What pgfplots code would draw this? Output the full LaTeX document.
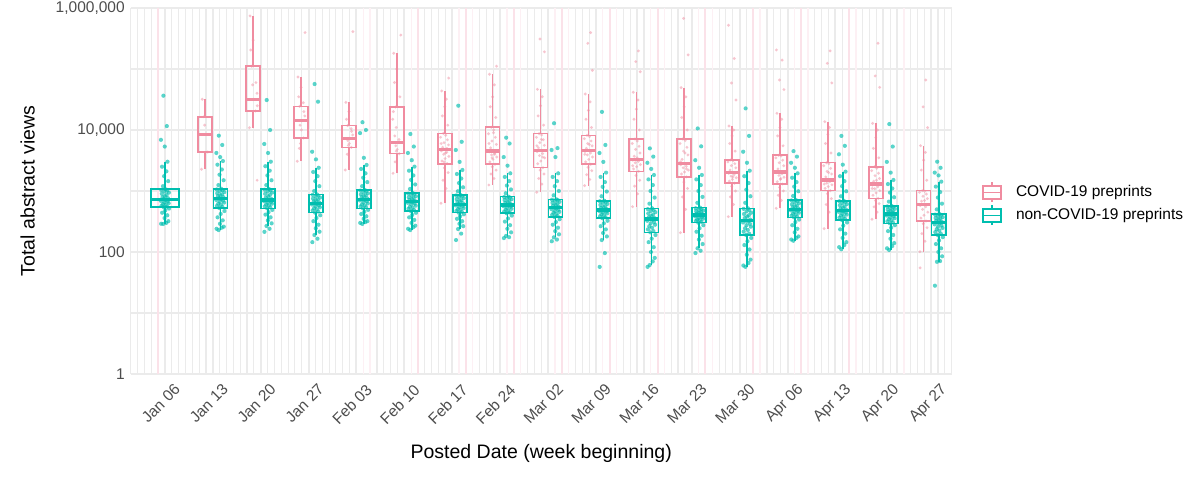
\documentclass[border=0pt]{standalone}
\usepackage{fontspec}
\setmainfont{Liberation Sans}
\usepackage{pgfplots}
\usepackage{pgfplotstable}
\pgfplotsset{compat=1.18}

\definecolor{pinkc}{RGB}{240,140,160}
\definecolor{tealc}{RGB}{0,190,175}
\definecolor{gridc}{RGB}{235,235,235}
\definecolor{pinkline}{RGB}{251,226,233}
\definecolor{pinkfaint}{RGB}{253,240,244}
\definecolor{ticktext}{RGB}{77,77,77}

\pgfplotstableread{
o t0 t1 t2 t3 t4 t5 t6 t7 t8 t9 t10 t11 t12 t13 t14 t15 t16
-0.55 290 240 214 145 300 240 157 169 150 57 57 96 60 160 120 115 28
0.20 300 250 240 165 310 255 200 175 160 96 70 105 66 170 130 125 71
-0.25 288 229 267 190 288 229 238 183 174 157 61 115 57 153 111 108 69
0.50 320 260 295 215 320 270 265 210 195 180 80 135 75 180 145 140 85
-0.05 360 290 330 245 350 300 290 240 220 205 100 160 90 210 170 165 100
0.35 400 330 370 280 385 335 320 275 250 235 120 185 110 240 200 190 115
-0.40 440 370 410 320 420 370 350 315 280 265 145 215 130 275 235 220 135
0.05 480 420 450 360 455 405 385 355 310 295 165 245 150 310 270 250 155
0.60 515 470 490 400 490 440 415 395 345 325 190 275 170 340 305 275 175
-0.15 541 526 520 441 520 470 441 431 375 357 210 303 190 370 335 295 190
0.30 555 550 540 460 540 490 455 445 390 370 220 312 200 380 350 305 200
-0.50 570 570 560 480 560 510 470 460 405 385 235 322 215 395 365 318 212
0.10 590 595 580 500 580 530 490 475 420 400 250 332 230 410 380 331 224
-0.30 610 620 600 520 600 550 505 495 440 415 265 342 245 425 395 344 236
0.55 630 645 620 540 625 575 525 510 455 430 280 352 260 440 410 357 248
-0.10 650 670 640 560 650 600 545 530 470 445 295 362 275 455 425 370 260
0.40 670 695 660 580 675 620 565 550 490 460 310 373 290 470 440 383 272
-0.60 690 715 680 600 700 640 580 565 505 470 325 384 305 482 455 396 284
0.15 710 740 700 615 715 655 595 580 520 480 338 395 318 492 466 408 295
-0.20 731 759 712 629 730 668 605 589 533 488 347 404 326 501 475 420 303
0.45 760 790 740 650 760 690 630 610 555 505 360 416 340 520 495 435 313
-0.35 790 820 780 675 790 715 655 635 575 525 375 428 360 540 515 450 325
0.00 820 850 820 700 820 740 680 660 595 545 390 440 380 560 535 465 337
0.25 860 880 860 725 850 765 705 685 615 565 410 452 400 580 560 480 349
-0.45 900 920 900 750 880 790 735 710 640 590 430 465 420 605 585 495 361
0.58 940 960 940 780 915 820 765 735 665 615 450 478 440 630 610 510 373
-0.08 980 1000 980 810 950 850 795 760 690 640 470 492 465 655 635 528 385
0.32 1010 1030 1020 840 985 880 820 780 710 660 490 507 490 680 660 545 398
-0.52 1040 1060 1050 865 1015 905 845 795 720 680 505 520 510 700 680 558 410
0.12 1066 1090 1078 882 1038 927 860 807 730 693 520 533 520 712 693 568 420
-0.28 1200 1250 1250 1000 1200 1080 990 920 850 820 620 640 640 830 820 670 500
0.48 1450 1500 1500 1200 1400 1280 1150 1060 1000 980 780 800 820 990 990 790 620
-0.12 1750 1850 1800 1450 1650 1520 1350 1230 1200 1170 1000 1000 1050 1180 1200 940 780
0.22 2100 2250 2150 1750 1950 1800 1600 1450 1450 1400 1250 1250 1350 1400 1450 1100 960
-0.42 2500 2700 2550 2050 2300 2150 1900 1700 1700 1700 1550 1550 1750 1650 1750 1300 1180
0.38 3020 3100 3020 2400 2670 2510 2210 1950 1950 2000 1830 1830 2150 1950 2075 1515 1422
-0.02 5350 3600 4200 3300 3500 3200 3000 2600 3600 3000 2300 2400 2900 2400 2700 2000 1800
-0.58 6900 4200 5900 4400 8900 4200 4700 3600 4700 4200 2900 3200 4400 2900 4000 3000 2000
0.28 11600 5680 10000 29100 10000 5350 6400 6000 5050 5680 3660 5400 8000 3660 5500 5350 2400
-0.22 36500 8070 31000 56700 13400 8600 25000 7480 12900 19800 5000 10600 22600 4500 8000 12500 3020
}\tealpts

\pgfplotstableread{
o p1 p2 p3 p4 p5 p6 p7 p8 p9 p10 p11 p12 p13 p14 p15 p16
-0.55 2270 10900 3070 2210 1950 629 1254 951 1222 553 207 379 520 241 344 101
0.20 nan nan nan nan nan 1100 1600 1300 1550 900 500 600 700 450 450 150
-0.25 nan nan 5000 4000 3000 1500 1900 1600 1850 1200 800 800 850 600 550 200
0.50 nan nan nan nan nan 2000 2200 1900 2150 1500 1100 1000 1000 750 620 250
-0.05 nan nan nan nan nan 2400 2500 2200 2450 1800 1400 1200 1150 900 700 290
0.35 4360 20500 7390 5200 4090 2800 2740 2410 2740 2100 1698 1337 1303 1012 759 322
-0.40 nan nan nan nan nan 3100 3000 2800 3000 2300 1900 1450 1420 1100 850 360
0.05 nan nan 10000 6000 4800 3400 3300 3100 3300 2500 2050 1550 1550 1180 930 400
0.60 nan 25000 nan nan nan 3700 3600 3500 3600 2700 2200 1650 1680 1260 1010 450
-0.15 nan nan 12000 6700 5500 4000 3900 3800 3900 2900 2400 1750 1800 1340 1090 500
0.30 nan nan nan nan nan 4300 4150 4100 4200 3050 2550 1850 1920 1420 1170 550
-0.50 nan nan nan nan nan 4550 4400 4400 4450 3200 2700 1950 2000 1480 1250 580
0.10 8490 31900 14200 7300 6280 4760 4530 4650 4650 3300 2800 2025 2050 1515 1303 605
-0.30 nan nan nan nan 8000 5200 5100 5100 5000 3700 3300 2200 2300 1700 1450 680
0.55 nan 40000 17000 8300 nan 5700 5800 5600 5500 4200 3900 2400 2600 1900 1600 750
-0.10 12000 nan nan nan 11000 6200 6600 6200 6000 4800 4500 2600 2900 2100 1780 820
0.40 nan 60000 20000 9500 nan 6900 7600 6900 6600 5400 5200 2800 3200 2350 1950 890
-0.60 nan nan nan nan 15000 7600 8700 7600 7200 6000 6000 3000 3500 2600 2150 950
0.15 nan nan nan nan nan 8200 10000 8300 7800 6600 6700 3150 3750 2800 2350 990
-0.20 16500 110700 24400 11800 23800 8810 11070 8700 8170 7120 7120 3220 3850 2910 2500 1012
0.45 nan nan nan nan 35000 12000 16000 12000 11000 10000 10000 4500 5500 4200 3500 1500
-0.35 nan 205000 35000 15000 60000 17000 24000 17000 15000 15000 16000 6000 8000 6000 5000 2200
0.00 nan 298000 50000 20000 100000 24000 35000 25000 21000 22000 24000 8000 11000 8500 7500 3200
0.25 nan nan nan nan nan 32000 55000 35000 29000 31000 35000 10000 15000 11000 10000 4300
-0.45 31900 740000 74000 28400 180700 43600 81900 46400 38900 41500 49400 11640 18800 13700 12850 5530
0.58 nan 1500 395000 410000 360000 71000 111000 191000 95000 90000 170000 31000 46000 59000 50000 10900
-0.08 nan 55000 6000 5600 4500 3000 3500 310000 264000 132000 675000 59000 66000 124000 77000 24000
0.32 nan nan 28000 10500 7000 5000 4000 3600 395000 198000 2300 149000 140000 198000 264000 66000
-0.52 nan nan nan nan 20000 6000 6000 5500 4000 2600 3000 520000 205000 1300 1100 55
0.12 nan nan nan nan nan 4200 9000 7000 5800 3500 4200 1700 1600 2000 1500 700
}\pinkpts

\pgfplotsset{
  tealpt/.style={only marks, mark=*, mark size=1.05pt, color=tealc, mark options={solid, fill=tealc, draw opacity=0, fill opacity=0.65}, forget plot},
  pinkpt/.style={only marks, mark=*, mark size=0.8pt, color=pinkc, mark options={solid, fill=pinkc, draw opacity=0, fill opacity=0.5}, forget plot},
}
\newcommand\tpts[2]{\addplot[tealpt] table[x expr=\thisrow{o}+#1, y=#2]{\tealpts};}
\newcommand\ppts[2]{\addplot[pinkpt] table[x expr=\thisrow{o}+#1, y=#2]{\pinkpts};}
% box: colour, position, half width, lower whisker, Q1, median, Q3, upper whisker
\newcommand\mybox[8]{%
  \pgfmathsetmacro\xa{#2-#3}\pgfmathsetmacro\xb{#2+#3}%
  \edef\temp{%
    \noexpand\addplot[draw=#1, line width=0.8pt, forget plot] coordinates {(#2,#4) (#2,#5)};
    \noexpand\addplot[draw=#1, line width=0.8pt, forget plot] coordinates {(#2,#7) (#2,#8)};
    \noexpand\addplot[draw=#1, line width=0.8pt, line join=miter, forget plot] coordinates {(\xa,#5) (\xb,#5) (\xb,#7) (\xa,#7)} -- cycle;
    \noexpand\addplot[draw=#1, line width=1.6pt, forget plot] coordinates {(\xa,#6) (\xb,#6)};
  }\temp}

\begin{document}
\begin{tikzpicture}
\begin{axis}[
  at={(0,0)}, anchor=south west,
  scale only axis, width=410.5pt, height=183pt,
  xmin=-5, xmax=115, ymode=log, ymin=1, ymax=1000000,
  xtick={0,7,...,112},
  xticklabels={Jan 06,Jan 13,Jan 20,Jan 27,Feb 03,Feb 10,Feb 17,Feb 24,Mar 02,Mar 09,Mar 16,Mar 23,Mar 30,Apr 06,Apr 13,Apr 20,Apr 27},
  minor xtick={-5,-4,...,115},
  ytick={1,100,10000,1000000},
  yticklabels={1,100,{10,000},{1,000,000}},
  minor ytick={10,1000,100000},
  grid=both,
  major grid style={draw=gridc, line width=1pt},
  minor grid style={draw=gridc, line width=0.55pt},
  axis line style={draw=none},
  major tick length=0pt, minor tick length=0pt,
  tick label style={font=\fontsize{7.75}{9}\selectfont, text=ticktext},
  xticklabel style={rotate=45, anchor=north east, inner sep=0pt, yshift=-6pt},
  yticklabel style={anchor=east, inner sep=0pt, xshift=-2.8pt},
  xlabel={Posted Date (week beginning)},
  ylabel={Total abstract views},
  every axis x label/.style={at={(axis description cs:0.5,-0.2158)}, anchor=center, font=\fontsize{9.75}{11}\selectfont},
  every axis y label/.style={at={(axis description cs:-0.1255,0.5)}, anchor=center, rotate=90, font=\fontsize{9.75}{11}\selectfont},
  legend style={at={(axis description cs:1,0.4645)}, anchor=west, xshift=15.15pt, draw=none, fill=none, inner sep=0pt, font=\fontsize{7.75}{9}\selectfont, row sep=0.7pt, nodes={inner sep=0pt}, /tikz/every odd column/.append style={column sep=7pt}},
  legend cell align=left,
]
% faint pink vertical lines
\addplot[ycomb, draw=pinkfaint, line width=0.7pt, forget plot] coordinates {(29,1000000) (30,1000000) (36,1000000) (43,1000000) (45,1000000) (50,1000000) (52,1000000) (57,1000000) (59,1000000) (64,1000000) (66,1000000) (71,1000000) (73,1000000) (78,1000000) (80,1000000) (87,1000000) (92,1000000) (94,1000000) (101,1000000) (108,1000000)};
\addplot[ycomb, draw=pinkline, line width=1pt, forget plot] coordinates {(-1,1000000) (37,1000000) (44,1000000) (51,1000000) (58,1000000) (65,1000000) (72,1000000) (79,1000000) (86,1000000) (93,1000000) (100,1000000)};

% jittered points
\tpts{0}{t0}
\tpts{8.1}{t1}
\tpts{15.1}{t2}
\tpts{22.1}{t3}
\tpts{29.1}{t4}
\tpts{36.1}{t5}
\tpts{43.1}{t6}
\tpts{50.1}{t7}
\tpts{57.1}{t8}
\tpts{64.1}{t9}
\tpts{71.1}{t10}
\tpts{78.1}{t11}
\tpts{85.1}{t12}
\tpts{92.1}{t13}
\tpts{99.1}{t14}
\tpts{106.1}{t15}
\tpts{113.1}{t16}
\ppts{5.9}{p1}
\ppts{12.9}{p2}
\ppts{19.9}{p3}
\ppts{26.9}{p4}
\ppts{33.9}{p5}
\ppts{40.9}{p6}
\ppts{47.9}{p7}
\ppts{54.9}{p8}
\ppts{61.9}{p9}
\ppts{68.9}{p10}
\ppts{75.9}{p11}
\ppts{82.9}{p12}
\ppts{89.9}{p13}
\ppts{96.9}{p14}
\ppts{103.9}{p15}
\ppts{110.9}{p16}

% non-COVID boxes
\mybox{tealc}{0}{2.05}{288}{541}{731}{1066}{3020}
\mybox{tealc}{8.1}{1.025}{229}{526}{759}{1090}{3100}
\mybox{tealc}{15.1}{1.025}{267}{520}{712}{1078}{3020}
\mybox{tealc}{22.1}{1.025}{190}{441}{629}{882}{2400}
\mybox{tealc}{29.1}{1.025}{288}{520}{730}{1038}{2670}
\mybox{tealc}{36.1}{1.025}{229}{470}{668}{927}{2510}
\mybox{tealc}{43.1}{1.025}{238}{441}{605}{860}{2210}
\mybox{tealc}{50.1}{1.025}{183}{431}{589}{807}{1950}
\mybox{tealc}{57.1}{1.025}{174}{375}{533}{730}{1950}
\mybox{tealc}{64.1}{1.025}{157}{357}{488}{693}{2000}
\mybox{tealc}{71.1}{1.025}{61}{210}{347}{520}{1830}
\mybox{tealc}{78.1}{1.025}{115}{303}{404}{533}{1830}
\mybox{tealc}{85.1}{1.025}{57}{190}{326}{520}{2150}
\mybox{tealc}{92.1}{1.025}{153}{370}{501}{712}{1950}
\mybox{tealc}{99.1}{1.025}{111}{335}{475}{693}{2075}
\mybox{tealc}{106.1}{1.025}{108}{295}{420}{568}{1515}
\mybox{tealc}{113.1}{1.025}{69}{190}{303}{420}{1422}

% COVID boxes
\mybox{pinkc}{5.9}{1.025}{2270}{4360}{8490}{16500}{31900}
\mybox{pinkc}{12.9}{1.025}{10900}{20500}{31900}{110700}{740000}
\mybox{pinkc}{19.9}{1.025}{3070}{7390}{14200}{24400}{74000}
\mybox{pinkc}{26.9}{1.025}{2210}{5200}{7300}{11800}{28400}
\mybox{pinkc}{33.9}{1.025}{1950}{4090}{6280}{23800}{180700}
\mybox{pinkc}{40.9}{1.025}{629}{2800}{4760}{8810}{43600}
\mybox{pinkc}{47.9}{1.025}{1254}{2740}{4530}{11070}{81900}
\mybox{pinkc}{54.9}{1.025}{951}{2410}{4650}{8700}{46400}
\mybox{pinkc}{61.9}{1.025}{1222}{2740}{4650}{8170}{38900}
\mybox{pinkc}{68.9}{1.025}{553}{2100}{3300}{7120}{41500}
\mybox{pinkc}{75.9}{1.025}{207}{1698}{2800}{7120}{49400}
\mybox{pinkc}{82.9}{1.025}{379}{1337}{2025}{3220}{11640}
\mybox{pinkc}{89.9}{1.025}{520}{1303}{2050}{3850}{18800}
\mybox{pinkc}{96.9}{1.025}{241}{1012}{1515}{2910}{13700}
\mybox{pinkc}{103.9}{1.025}{344}{759}{1303}{2500}{12850}
\mybox{pinkc}{110.9}{1.025}{101}{322}{605}{1012}{5530}

\addlegendimage{legend image code/.code={
  \draw[pinkc, line width=0.8pt] (0pt,-3.25pt) rectangle (9pt,3.25pt);
  \draw[pinkc, line width=0.8pt] (0pt,0pt) -- (9pt,0pt);
  \draw[pinkc, line width=0.8pt] (4.5pt,3.25pt) -- (4.5pt,5pt) (4.5pt,-3.25pt) -- (4.5pt,-5pt);}}
\addlegendentry{COVID-19 preprints}
\addlegendimage{legend image code/.code={
  \draw[tealc, line width=0.8pt] (0pt,-3.25pt) rectangle (9pt,3.25pt);
  \draw[tealc, line width=0.8pt] (0pt,0pt) -- (9pt,0pt);
  \draw[tealc, line width=0.8pt] (4.5pt,3.25pt) -- (4.5pt,5pt) (4.5pt,-3.25pt) -- (4.5pt,-5pt);}}
\addlegendentry{non-COVID-19 preprints}
\end{axis}
\pgfresetboundingbox
\path[use as bounding box] (-65.35pt,-53pt) rectangle (534.65pt,187pt);
\end{tikzpicture}
\end{document}
